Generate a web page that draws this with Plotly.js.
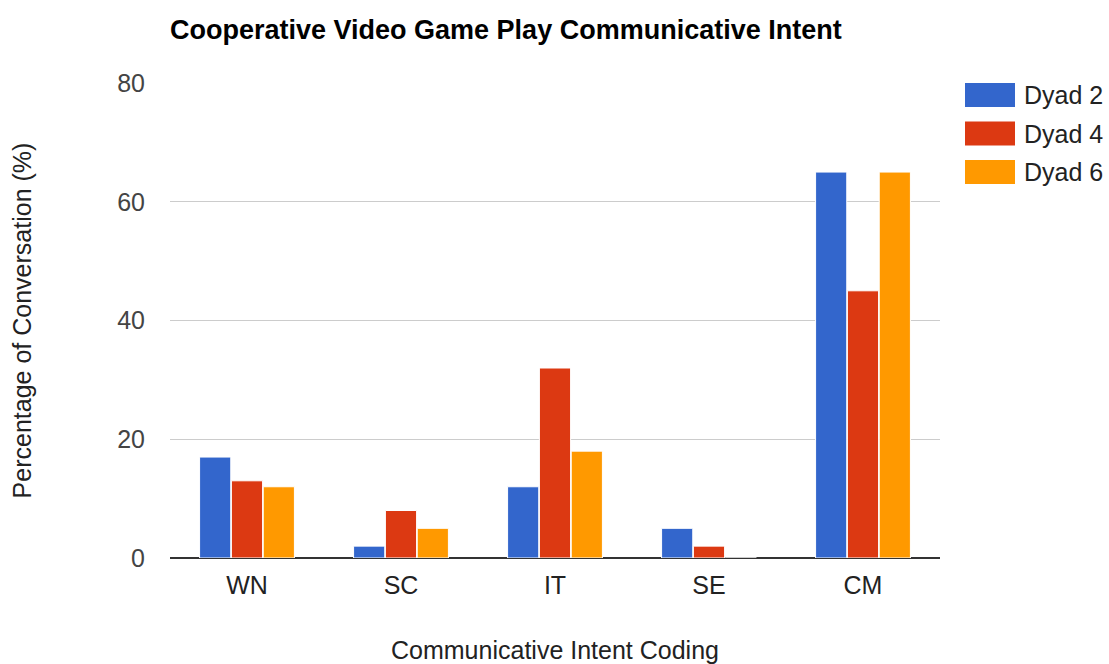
<!DOCTYPE html>
<html>
<head>
<meta charset="utf-8">
<script src="https://cdn.plot.ly/plotly-3.0.1.min.js"></script>
<style>
  html, body { margin: 0; padding: 0; background: #fff; }
  #chart { width: 1109px; height: 664px; }
</style>
</head>
<body>
<div id="chart"></div>
<script>
// Communicative intent categories and share of conversation per dyad (%)
const categories = ['WN', 'SC', 'IT', 'SE', 'CM'];
const seriesNames = ['Dyad 2', 'Dyad 4', 'Dyad 6'];
const dyad2 = [17, 2, 12, 5, 65];
const dyad4 = [13, 8, 32, 2, 45];
const dyad6 = [12, 5, 18, 0, 65];
const yTicks = [0, 20, 40, 60, 80];

const colors = ['#3366cc', '#dc3912', '#ff9900'];
const seriesValues = [dyad2, dyad4, dyad6];
const FONT = 'Arial, "Liberation Sans", sans-serif';

const traces = seriesValues.map((vals, i) => ({
  type: 'bar',
  name: seriesNames[i],
  x: categories,
  y: vals,
  marker: { color: colors[i], line: { color: '#ffffff', width: 1 } },
  showlegend: false,
  hoverinfo: 'x+y+name'
}));

// Legend drawn as swatches + labels in paper space, to the right of the plot
const shapes = [];
const annotations = [];
const legendTop = 83, legendStep = 38.5, swH = 24, swW = 50;
seriesNames.forEach((name, i) => {
  const y0 = legendTop + i * legendStep;
  shapes.push({
    type: 'rect', xref: 'paper', yref: 'paper',
    x0: (965 - 170) / 770, x1: (965 + swW - 170) / 770,
    y0: 1 - (y0 + swH - 83) / 475, y1: 1 - (y0 - 83) / 475,
    fillcolor: colors[i], line: { width: 0 }
  });
  annotations.push({
    xref: 'paper', yref: 'paper',
    x: (1022 - 170) / 770, y: 1 - (y0 + swH / 2 - 83) / 475,
    xanchor: 'left', yanchor: 'middle', showarrow: false,
    text: name, font: { family: FONT, size: 25, color: '#222' }
  });
});

const layout = {
  width: 1109, height: 664,
  margin: { l: 170, r: 169, t: 83, b: 106 },
  paper_bgcolor: '#ffffff', plot_bgcolor: '#ffffff',
  font: { family: FONT, size: 25, color: '#444' },
  title: {
    text: '<b>Cooperative Video Game Play Communicative Intent</b>',
    font: { family: FONT, size: 27, color: '#000' },
    x: 170 / 1109, xanchor: 'left', y: 1 - 30 / 664, yanchor: 'middle'
  },
  barmode: 'group',
  bargap: 0.38,
  bargroupgap: 0.02,
  xaxis: {
    type: 'category',
    showgrid: false, showline: false, zeroline: false,
    ticks: '', ticklabelstandoff: 10,
    tickfont: { family: FONT, size: 25, color: '#222' },
    title: { text: 'Communicative Intent Coding', standoff: 45,
             font: { family: FONT, size: 25, color: '#222' } },
    automargin: false
  },
  yaxis: {
    range: [0, 80], tickvals: yTicks, ticktext: yTicks.map(String),
    showgrid: true, gridcolor: '#cccccc', gridwidth: 1,
    zeroline: true, zerolinecolor: '#333333', zerolinewidth: 2,
    showline: false, ticks: '', ticklabelstandoff: 24,
    tickfont: { family: FONT, size: 25, color: '#444' },
    title: { text: 'Percentage of Conversation (%)', standoff: 78,
             font: { family: FONT, size: 25, color: '#222' } },
    automargin: false
  },
  shapes: shapes,
  annotations: annotations
};

Plotly.newPlot('chart', traces, layout, { displayModeBar: false, staticPlot: true });
</script>
</body>
</html>
